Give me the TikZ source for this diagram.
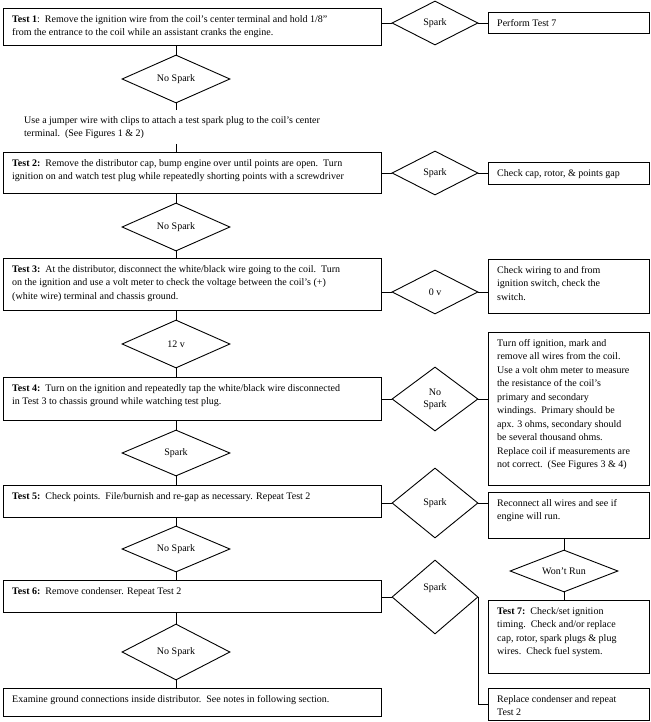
\documentclass[tikz,border=0pt]{standalone}
\usepackage{fontspec}
\setmainfont{Liberation Serif}
\usetikzlibrary{shapes.geometric}
\newcommand\fcbox[6]{%
  \node[boxr, minimum width={#4-#2}, minimum height={#5-#3}] (#1) at (#2,#3) {};
  \node[lbl] (#1t) at ([shift={(9,7)}]#1.north west) {#6};
}
\begin{document}
\begin{tikzpicture}[x=1pt,y=-1pt,
  lbl/.style={font=\fontsize{10}{13.5}\selectfont, align=left, inner sep=0pt, anchor=north west},
  boxr/.style={draw, rectangle, inner sep=0pt, anchor=north west, line width=0.9pt},
  dia/.style={draw, diamond, shape aspect=2, inner sep=0pt, align=center, line width=0.9pt,
              font=\fontsize{10}{12}\selectfont},
  conn/.style={line width=0.9pt}]
\useasboundingbox (0,0) rectangle (650,722);
% left column boxes
\fcbox{t1}{3}{8}{381}{45}{\textbf{Test 1}:\ \ Remove the ignition wire from the coil’s center terminal and hold 1/8”\\from the entrance to the coil while an assistant cranks the engine.}
\fcbox{t2}{3}{152}{381}{193}{\textbf{Test 2:}\ \ Remove the distributor cap, bump engine over until points are open.\ \ Turn\\ignition on and watch test plug while repeatedly shorting points with a screwdriver}
\fcbox{t3}{3}{258}{381}{310}{\textbf{Test 3:}\ \ At the distributor, disconnect the white/black wire going to the coil.\ \ Turn\\on the ignition and use a volt meter to check the voltage between the coil’s (+)\\(white wire) terminal and chassis ground.}
\fcbox{t4}{3}{377}{381}{420}{\textbf{Test 4:}\ \ Turn on the ignition and repeatedly tap the white/black wire disconnected\\in Test 3 to chassis ground while watching test plug.}
\fcbox{t5}{3}{485}{381}{517}{\textbf{Test 5:}\ \ Check points.\ \ File/burnish and re-gap as necessary. Repeat Test 2}
\fcbox{t6}{3}{580}{381}{612}{\textbf{Test 6:}\ \ Remove condenser. Repeat Test 2}
\fcbox{ex}{3}{688}{381}{716}{Examine ground connections inside distributor.\ \ See notes in following section.}
% right column boxes
\fcbox{p7}{488}{12}{649}{33}{Perform Test 7}
\fcbox{cap}{488}{162}{649}{184}{Check cap, rotor, \& points gap}
\fcbox{wir}{488}{259}{649}{313}{Check wiring to and from\\ignition switch, check the\\switch.}
\fcbox{off}{488}{332}{649}{485}{Turn off ignition, mark and\\remove all wires from the coil.\\Use a volt ohm meter to measure\\the resistance of the coil’s\\primary and secondary\\windings.\ \ Primary should be\\apx. 3 ohms, secondary should\\be several thousand ohms.\\Replace coil if measurements are\\not correct.\ \ (See Figures 3 \& 4)}
\fcbox{rec}{488}{492}{649}{538}{Reconnect all wires and see if\\engine will run.}
\fcbox{t7}{488}{600}{649}{673}{\textbf{Test 7:}\ \ Check/set ignition\\timing.\ \ Check and/or replace\\cap, rotor, spark plugs \& plug\\wires.\ \ Check fuel system.}
\fcbox{rep}{488}{688}{649}{720}{Replace condenser and repeat\\Test 2}
% free text
\node[lbl] (jump) at (24,116) {Use a jumper wire with clips to attach a test spark plug to the coil’s center\\terminal.\ \ (See Figures 1 \& 2)};
% diamonds left
\node[dia, minimum width=108, minimum height=48] (ns1) at (176,79) {No Spark};
\node[dia, minimum width=108, minimum height=48] (ns2) at (176,227) {No Spark};
\node[dia, minimum width=108, minimum height=48] (v12) at (176,344) {12 v};
\node[dia, minimum width=108, minimum height=46] (s4) at (176,453) {Spark};
\node[dia, minimum width=108, minimum height=46] (ns5) at (176,549) {No Spark};
\node[dia, minimum width=108, minimum height=56] (ns6) at (176,652) {No Spark};
% diamonds right
\node[dia, minimum width=86, minimum height=44] (s1) at (435,23) {Spark};
\node[dia, minimum width=86, minimum height=44] (s2) at (435,173) {Spark};
\node[dia, minimum width=86, minimum height=44] (v0) at (435,292) {0 v};
\node[dia, minimum width=86, minimum height=64] (ns3) at (435,399) {No\\Spark};
\node[dia, minimum width=86, minimum height=70] (s5) at (435,503) {Spark};
\node[dia, minimum width=86, minimum height=74] (s6) at (435,597) {};
\node[lbl, anchor=center, font=\fontsize{10}{12}\selectfont] (s6t) at (435,588) {Spark};
\node[dia, minimum width=108, minimum height=42] (wr) at (564,571) {Won’t Run};
% free-end coordinates
\coordinate (j1) at (176,110);
\coordinate (j2) at (176,144);
% connectors
\draw[conn] (s1.west) -- (s1.west -| t1.east);
\draw[conn] (s1.east) -- (s1.east -| p7.west);
\draw[conn] (ns1.north) -- (ns1.north |- t1.south);
\draw[conn] (ns1.south) -- (j1);
\draw[conn] (j2) -- (j2 |- t2.north);
\draw[conn] (s2.west) -- (s2.west -| t2.east);
\draw[conn] (s2.east) -- (s2.east -| cap.west);
\draw[conn] (ns2.north) -- (ns2.north |- t2.south);
\draw[conn] (ns2.south) -- (ns2.south |- t3.north);
\draw[conn] (v0.west) -- (v0.west -| t3.east);
\draw[conn] (v0.east) -- (v0.east -| wir.west);
\draw[conn] (v12.north) -- (v12.north |- t3.south);
\draw[conn] (v12.south) -- (v12.south |- t4.north);
\draw[conn] (ns3.west) -- (ns3.west -| t4.east);
\draw[conn] (ns3.east) -- (ns3.east -| off.west);
\draw[conn] (s4.north) -- (s4.north |- t4.south);
\draw[conn] (s4.south) -- (s4.south |- t5.north);
\draw[conn] (s5.west) -- (s5.west -| t5.east);
\draw[conn] (s5.east) -- (s5.east -| rec.west);
\draw[conn] (wr.north) -- (wr.north |- rec.south);
\draw[conn] (wr.south) -- (wr.south |- t7.north);
\draw[conn] (ns5.north) -- (ns5.north |- t5.south);
\draw[conn] (ns5.south) -- (ns5.south |- t6.north);
\draw[conn] (s6.west) -- (s6.west -| t6.east);
\draw[conn] (s6.east) |- (rep.west);
\draw[conn] (ns6.north) -- (ns6.north |- t6.south);
\draw[conn] (ns6.south) -- (ns6.south |- ex.north);
\end{tikzpicture}
\end{document}
